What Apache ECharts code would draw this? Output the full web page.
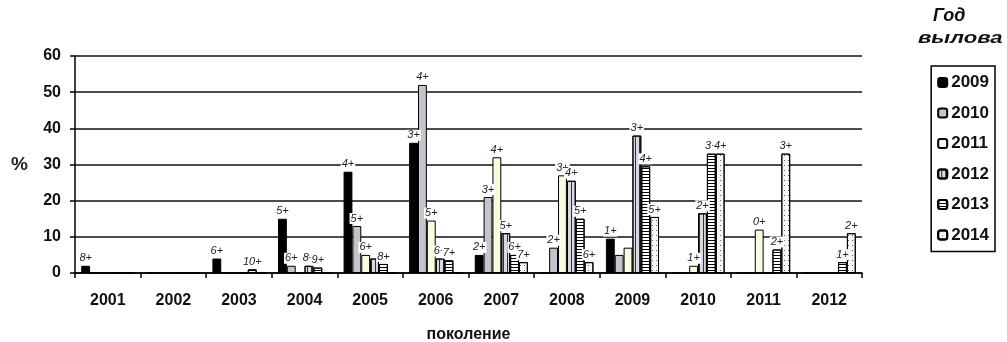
<!DOCTYPE html>
<html>
<head>
<meta charset="utf-8">
<script src="https://cdn.jsdelivr.net/npm/echarts@6/dist/echarts.min.js"></script>
<style>
  html, body { margin: 0; padding: 0; background: #fff; }
  #chart { width: 1007px; height: 342px; }
</style>
</head>
<body>
<div id="chart"></div>
<script>
var generations = ['2001','2002','2003','2004','2005','2006','2007','2008','2009','2010','2011','2012'];
var catchYears = ['2009','2010','2011','2012','2013','2014'];

// % по поколениям, отдельно для каждого года вылова
var y2009 = [2, 0, 4, 15, 28, 36, 5, 0, 9.5, 0, 0, 0];
var y2010 = [0, 0, 0, 2, 13, 52, 21, 7, 5, 0, 0, 0];
var y2011 = [0, 0, 0, 0, 5, 14.5, 32, 27, 7, 2, 12, 0];
var y2012 = [0, 0, 0, 2, 4, 4, 11, 25.5, 38, 16.5, 0, 0];
var y2013 = [0, 0, 1, 1.5, 2.5, 3.5, 5, 15, 29.5, 33, 6.5, 3];
var y2014 = [0, 0, 0, 0, 0, 0, 3, 3, 15.5, 33, 33, 11];

var yTicks = [0, 10, 20, 30, 40, 50, 60];

// столбцы без подписи возраста и подписи, отличающиеся от расчётных
var noLabel = ['2005-2012', '2009-2010', '2009-2011'];
var labelOverride = { '2009-2009': '1+' };

var chart = echarts.init(document.getElementById('chart'));

function ageLabel(p) {
    var key = p.name + '-' + p.seriesName;
    if (!p.value) return '';
    if (noLabel.indexOf(key) >= 0) return '';
    if (labelOverride[key]) return labelOverride[key];
    return (parseInt(p.seriesName) - parseInt(p.name)) + '+';
}

var labelStyle = {
    show: true,
    position: 'top',
    distance: 2,
    formatter: ageLabel,
    fontFamily: 'Liberation Sans',
    fontStyle: 'italic',
    fontSize: 11,
    color: '#222',
    backgroundColor: '#fff',
    padding: [0, 1]
};

var styles = {
    '2009': { color: '#000', borderColor: '#000', borderWidth: 1 },
    '2010': { color: '#c4c4cc', borderColor: '#000', borderWidth: 1 },
    '2011': { color: '#fbfbe2', borderColor: '#000', borderWidth: 1 },
    '2012': { color: '#d8d8e0', borderColor: '#000', borderWidth: 1,
        decal: { symbol: 'rect', symbolSize: 1, color: '#333', dashArrayX: [1, 0], dashArrayY: [1, 3], rotation: Math.PI / 2 } },
    '2013': { color: '#ffffff', borderColor: '#000', borderWidth: 1,
        decal: { symbol: 'rect', symbolSize: 1, color: '#000', dashArrayX: [1, 0], dashArrayY: [1, 2], rotation: 0 } },
    '2014': { color: '#f6f6f0', borderColor: '#000', borderWidth: 1,
        decal: { symbol: 'rect', symbolSize: 1, color: '#666', dashArrayX: [1, 3], dashArrayY: [1, 4], rotation: 0 } }
};

var dataByYear = { '2009': y2009, '2010': y2010, '2011': y2011, '2012': y2012, '2013': y2013, '2014': y2014 };

var series = catchYears.map(function (yr) {
    return {
        name: yr,
        type: 'bar',
        data: dataByYear[yr],
        barGap: '0%',
        barCategoryGap: '19%',
        itemStyle: styles[yr],
        label: labelStyle,
        emphasis: { disabled: true }
    };
});

var option = {
    animation: false,
    backgroundColor: '#fff',
    textStyle: { fontFamily: 'Liberation Sans' },
    grid: { left: 75, right: 145, top: 56, bottom: 69, outerBoundsMode: 'none' },
    legend: {
        data: catchYears,
        orient: 'vertical',
        right: 12,
        top: 66,
        borderColor: '#000',
        borderWidth: 1.5,
        padding: [8, 6, 8, 6],
        itemWidth: 9,
        itemHeight: 9,
        itemGap: 13.5,
        textStyle: { fontSize: 17, fontWeight: 'bold', color: '#111', lineHeight: 16, padding: [0, 0, 0, -1] }
    },
    graphic: [
        { type: 'text', left: 933, top: 7,
          style: { text: 'Год', font: 'italic bold 18px Liberation Sans', fill: '#111' } },
        { type: 'text', left: 918, top: 30, scaleX: 1.3,
          style: { text: 'вылова', font: 'italic bold 17px Liberation Sans', fill: '#111' } }
    ],
    xAxis: {
        type: 'category',
        data: generations,
        name: 'поколение',
        nameLocation: 'middle',
        nameGap: 54,
        nameTextStyle: { fontSize: 16, fontWeight: 'bold', color: '#111' },
        axisLine: { lineStyle: { color: '#000', width: 1.5 } },
        axisTick: { show: true, length: 5, lineStyle: { color: '#000', width: 1.5 } },
        axisLabel: { fontSize: 16, fontWeight: 'bold', color: '#111', margin: 20 },
        splitLine: { show: false }
    },
    yAxis: {
        type: 'value',
        min: yTicks[0],
        max: yTicks[yTicks.length - 1],
        interval: 10,
        name: '%',
        nameLocation: 'middle',
        nameGap: 47,
        nameRotate: 0,
        nameTextStyle: { fontSize: 19, fontWeight: 'bold', color: '#222', padding: [10, 0, 0, 0] },
        axisLine: { show: true, lineStyle: { color: '#000', width: 1.5 } },
        axisTick: { show: true, length: 5, lineStyle: { color: '#000', width: 1.5 } },
        axisLabel: { fontSize: 16, fontWeight: 'bold', color: '#111', margin: 14 },
        splitLine: { lineStyle: { color: '#111', width: 1.5 } }
    },
    series: series
};

chart.setOption(option);
</script>
</body>
</html>
